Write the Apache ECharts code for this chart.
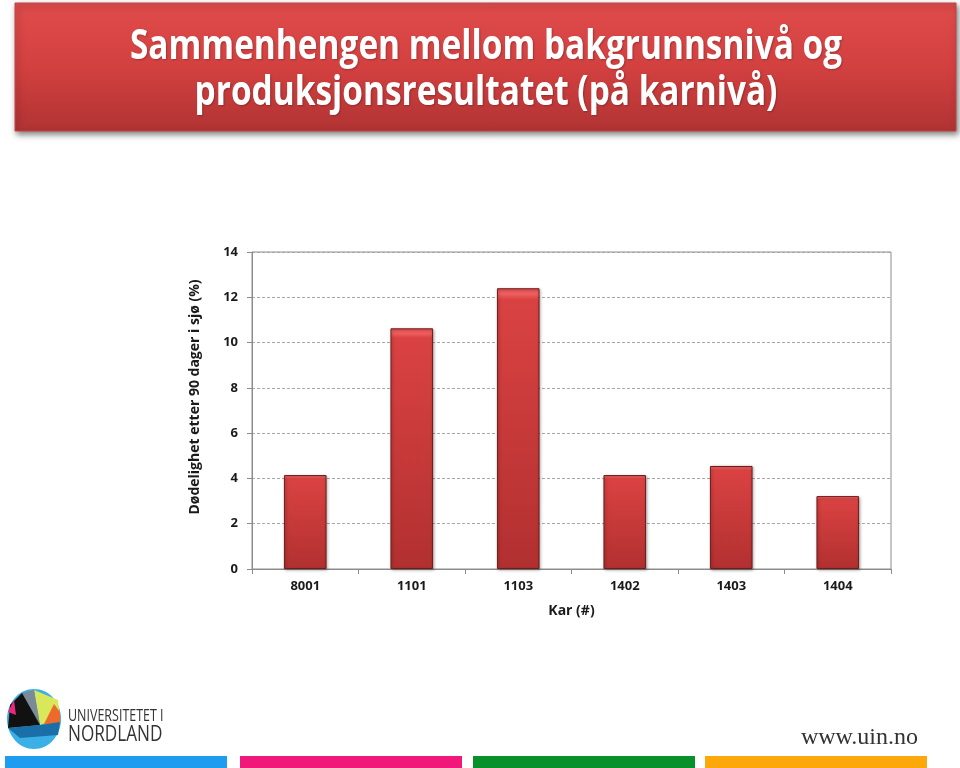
<!DOCTYPE html>
<html>
<head>
<meta charset="utf-8">
<script src="https://cdn.jsdelivr.net/npm/echarts@6/dist/echarts.min.js"></script>
<style>
html,body{margin:0;padding:0;background:#fff;}
#chart{width:960px;height:768px;}
</style>
</head>
<body>
<div id="chart"></div>
<script>
const titleLines = ["Sammenhengen mellom bakgrunnsnivå og", "produksjonsresultatet (på karnivå)"];
const categories = ["8001", "1101", "1103", "1402", "1403", "1404"];
const mortality = [4.15, 10.63, 12.4, 4.15, 4.55, 3.22];
const yTicks = [0, 2, 4, 6, 8, 10, 12, 14];
const yAxisName = "Dødelighet etter 90 dager i sjø (%)";
const xAxisName = "Kar (#)";
const stripeColors = ["#1e9cf0", "#f0197a", "#08912a", "#fca70a"];

const FONT = '"Open Sans", "Noto Sans", sans-serif';

const chart = echarts.init(document.getElementById('chart'), null, {renderer: 'canvas'});

const stripeX = [5, 240, 473, 705];
const stripeGraphics = stripeColors.map((c, i) => ({
  type: 'rect', shape: {x: stripeX[i], y: 756, width: 222, height: 12}, style: {fill: c}
}));

const option = {
  backgroundColor: '#ffffff',
  animation: false,
  grid: {left: 252, right: 69, top: 252, bottom: 199, show: true, borderColor: '#8c8c8c', borderWidth: 1, containLabel: false},
  xAxis: {
    type: 'category',
    data: categories,
    name: xAxisName,
    nameLocation: 'middle',
    nameGap: 35,
    nameTextStyle: {fontFamily: FONT, fontWeight: 'bold', fontSize: 14, color: '#1a1a1a'},
    axisLine: {lineStyle: {color: '#8c8c8c'}},
    axisTick: {show: true, alignWithLabel: false, length: 5, lineStyle: {color: '#8c8c8c'}},
    axisLabel: {fontFamily: FONT, fontWeight: 'bold', fontSize: 13, color: '#1a1a1a', margin: 11}
  },
  yAxis: {
    type: 'value',
    min: 0, max: 14, interval: 2,
    axisLine: {show: true, lineStyle: {color: '#8c8c8c'}},
    axisTick: {show: true, length: 5, lineStyle: {color: '#8c8c8c'}},
    axisLabel: {fontFamily: FONT, fontWeight: 'bold', fontSize: 13, color: '#1a1a1a', margin: 14,
      formatter: v => yTicks.includes(v) ? String(v) : ''},
    splitLine: {show: true, lineStyle: {color: '#a6a6a6', type: [3, 2], width: 1}}
  },
  series: [{
    type: 'bar',
    data: mortality,
    barWidth: '40%',
    itemStyle: {
      color: new echarts.graphic.LinearGradient(0, 0, 0, 1, [
        {offset: 0, color: '#e85050'},
        {offset: 0.02, color: '#f06060'},
        {offset: 0.04, color: '#da4242'},
        {offset: 1, color: '#b23030'}
      ]),
      borderColor: '#6e1c1c',
      borderWidth: 1,
      shadowColor: 'rgba(0,0,0,0.35)',
      shadowBlur: 3,
      shadowOffsetX: 1,
      shadowOffsetY: 1
    }
  }],
  graphic: [
    {
      type: 'rect',
      shape: {x: 15, y: 3, width: 941, height: 128},
      style: {
        fill: new echarts.graphic.LinearGradient(0, 0, 0, 1, [
          {offset: 0, color: '#e04c4c'},
          {offset: 0.5, color: '#d34040'},
          {offset: 1, color: '#b13333'}
        ]),
        stroke: '#c24444', lineWidth: 1,
        shadowColor: 'rgba(0,0,0,0.5)', shadowBlur: 6, shadowOffsetX: 2, shadowOffsetY: 3
      }
    },
    {
      type: 'text', x: 486, y: 24, scaleX: 0.815, scaleY: 1.0,
      style: {
        text: titleLines.join('\n'), fill: '#ffffff',
        font: 'bold 41px ' + FONT, lineHeight: 46, align: 'center', verticalAlign: 'top',
        textShadowColor: 'rgba(0,0,0,0.25)', textShadowBlur: 2, textShadowOffsetX: 1, textShadowOffsetY: 1
      }
    },
    {
      type: 'text', x: 195, y: 397, rotation: Math.PI / 2,
      style: {text: yAxisName, fill: '#1a1a1a', font: 'bold 14px ' + FONT, align: 'center', verticalAlign: 'middle'}
    },
    // logo approximation
    {type: 'ellipse', shape: {cx: 34, cy: 719, rx: 27, ry: 30}, style: {fill: '#3ab0e6'}},
    {type: 'polygon', shape: {points: [[34, 690], [58, 700], [60, 718], [40, 725]]}, style: {fill: '#d8e85a'}},
    {type: 'polygon', shape: {points: [[22, 693], [34, 690], [40, 725], [12, 720]]}, style: {fill: '#7a8a96'}},
    {type: 'polygon', shape: {points: [[10, 705], [22, 693], [40, 725], [8, 728]]}, style: {fill: '#111111'}},
    {type: 'polygon', shape: {points: [[8, 712], [14, 700], [16, 715]]}, style: {fill: '#e8287a'}},
    {type: 'polygon', shape: {points: [[54, 704], [60, 712], [60, 724], [44, 724]]}, style: {fill: '#ee6a2a'}},
    {type: 'polygon', shape: {points: [[8, 728], [40, 725], [60, 722], [58, 735], [20, 738]]}, style: {fill: '#1a6fa8'}},
    {type: 'text', x: 68, y: 708, scaleX: 0.78, style: {text: 'UNIVERSITETET I', fill: '#333333', font: '16px ' + FONT}},
    {type: 'text', x: 68, y: 724, scaleX: 0.78, style: {text: 'NORDLAND', fill: '#333333', font: '22px ' + FONT}},
    {type: 'text', right: 42, top: 726, style: {text: 'www.uin.no', fill: '#333333', font: '24px "Liberation Serif", serif'}}
  ].concat(stripeGraphics)
};
chart.setOption(option);
</script>
</body>
</html>
